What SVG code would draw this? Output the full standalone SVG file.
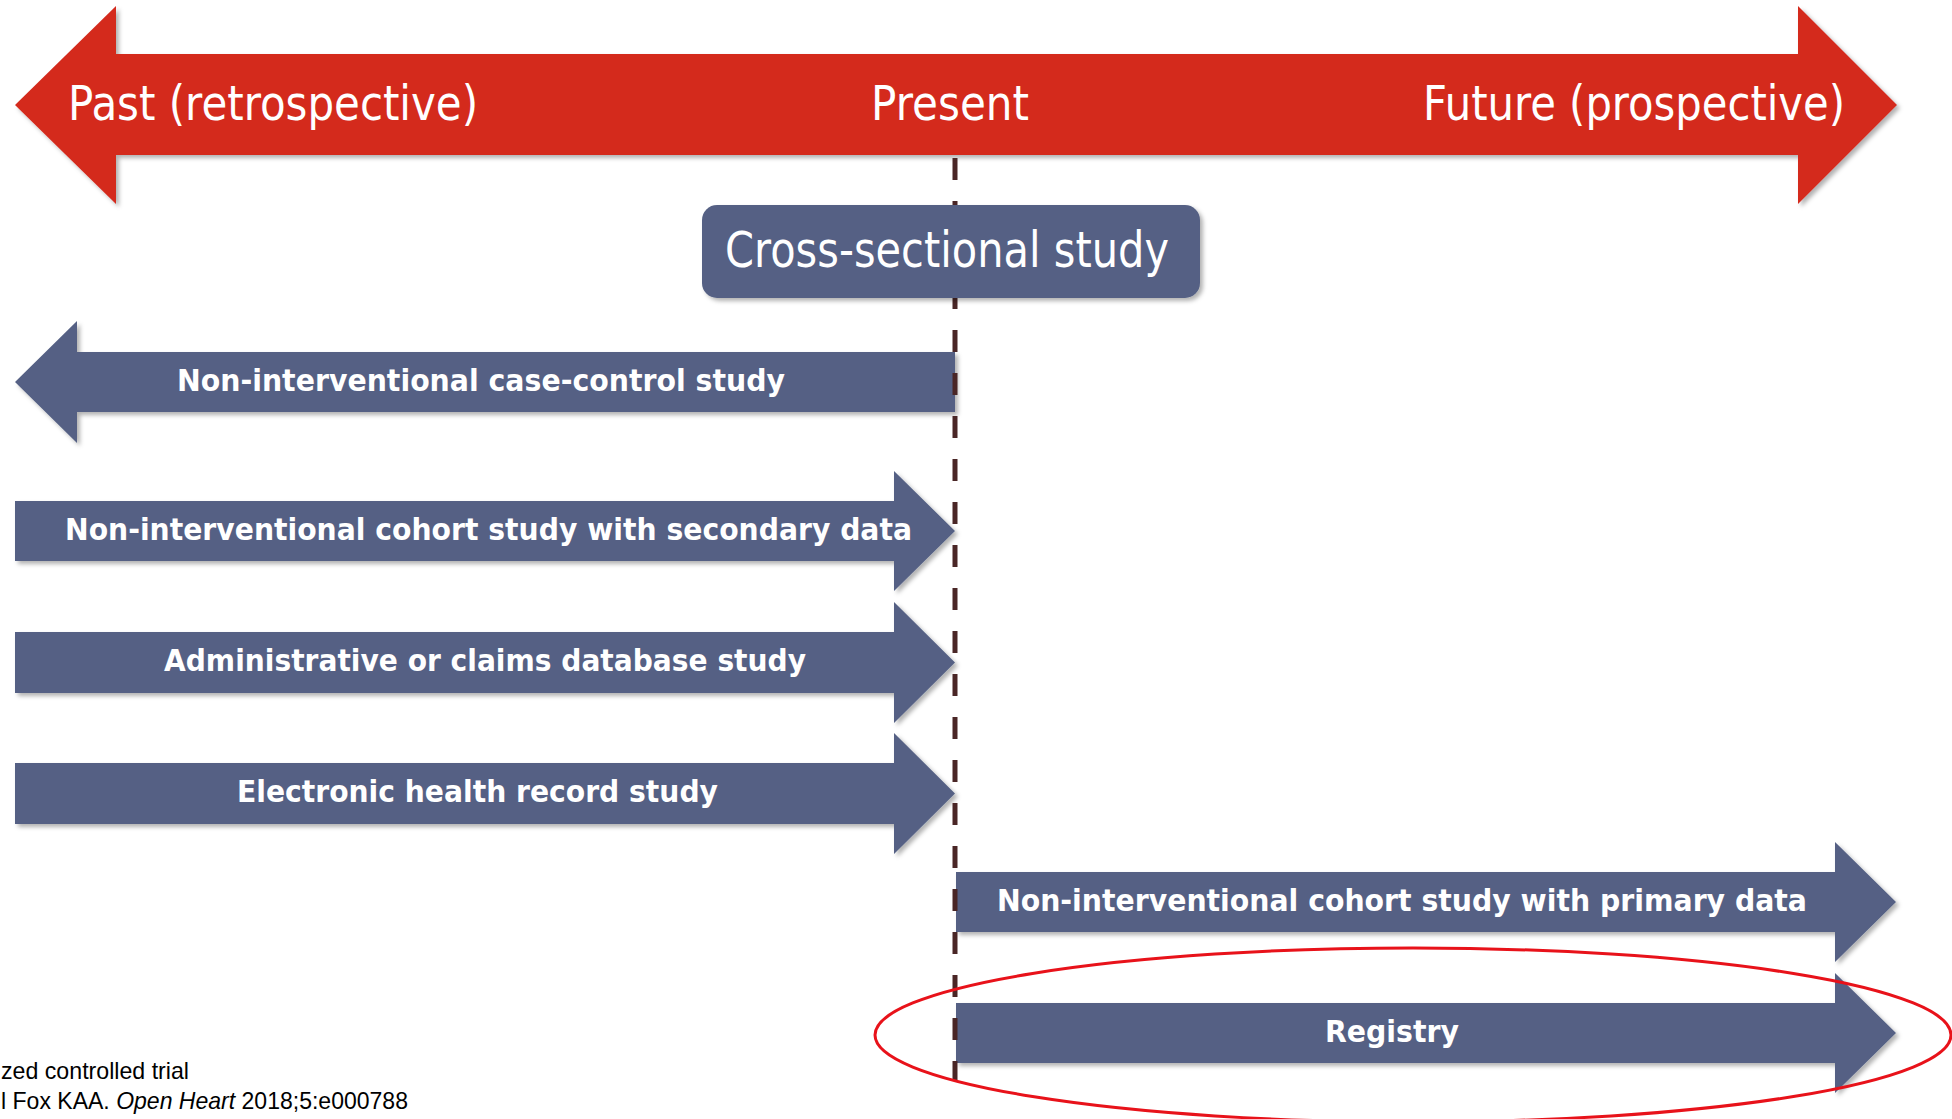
<svg xmlns="http://www.w3.org/2000/svg" width="1952" height="1119" viewBox="0 0 1952 1119">
  <defs>
    <filter id="shadow" x="-5%" y="-20%" width="110%" height="150%">
      <feDropShadow dx="3" dy="3" stdDeviation="2" flood-color="#000" flood-opacity="0.3"/>
    </filter>
    <style>
      .timeline { fill: #d42b1f; filter: url(#shadow); }
      .study { fill: #556184; filter: url(#shadow); }
      .tl-label { font-family: "DejaVu Sans", Verdana, sans-serif; font-size: 48px; fill: #ffffff; }
      .box-label { font-family: "DejaVu Sans", Verdana, sans-serif; font-size: 49px; fill: #ffffff; }
      .study-label { font-family: "DejaVu Sans", Verdana, sans-serif; font-size: 30px; font-weight: bold; fill: #ffffff; }
      .present-line { stroke: #4a2626; stroke-width: 5; stroke-dasharray: 22 21; fill: none; }
      .highlight { fill: none; stroke: #e8121a; stroke-width: 3; }
      .note { font-family: "Liberation Sans", Arial, sans-serif; font-size: 24px; fill: #000000; }
    </style>
  </defs>

  <rect width="1952" height="1119" fill="#ffffff"/>

  <!-- Time axis: past to future -->
  <g id="timeline">
    <path class="timeline" d="M15,105 L116,6 L116,54 L1798,54 L1798,6 L1897,105 L1798,204 L1798,155 L116,155 L116,204 Z"/>
    <text class="tl-label" x="68" y="120" textLength="410" lengthAdjust="spacingAndGlyphs">Past (retrospective)</text>
    <text class="tl-label" x="871" y="120" textLength="158" lengthAdjust="spacingAndGlyphs">Present</text>
    <text class="tl-label" x="1423" y="120" textLength="422" lengthAdjust="spacingAndGlyphs">Future (prospective)</text>
  </g>

  <!-- Study designs -->
  <g id="case-control">
    <path class="study" d="M15,382 L77,321 L77,352 L955,352 L955,412 L77,412 L77,443 Z"/>
    <text class="study-label" x="177" y="391" textLength="608" lengthAdjust="spacingAndGlyphs">Non-interventional case-control study</text>
  </g>

  <g id="cohort-secondary">
    <path class="study" d="M15,501 L894,501 L894,471 L955,531 L894,591 L894,561 L15,561 Z"/>
    <text class="study-label" x="65" y="540" textLength="847" lengthAdjust="spacingAndGlyphs">Non-interventional cohort study with secondary data</text>
  </g>

  <g id="claims-database">
    <path class="study" d="M15,632 L894,632 L894,602 L955,662.5 L894,723 L894,693 L15,693 Z"/>
    <text class="study-label" x="164" y="671" textLength="642" lengthAdjust="spacingAndGlyphs">Administrative or claims database study</text>
  </g>

  <g id="ehr">
    <path class="study" d="M15,763 L894,763 L894,733 L955,793.5 L894,854 L894,824 L15,824 Z"/>
    <text class="study-label" x="237" y="802" textLength="481" lengthAdjust="spacingAndGlyphs">Electronic health record study</text>
  </g>

  <g id="cohort-primary">
    <path class="study" d="M956,872 L1835,872 L1835,842 L1896,902 L1835,962 L1835,932 L956,932 Z"/>
    <text class="study-label" x="997" y="911" textLength="810" lengthAdjust="spacingAndGlyphs">Non-interventional cohort study with primary data</text>
  </g>

  <g id="registry">
    <path class="study" d="M956,1003 L1835,1003 L1835,973 L1896,1033 L1835,1093 L1835,1063 L956,1063 Z"/>
    <text class="study-label" x="1325" y="1042" textLength="134" lengthAdjust="spacingAndGlyphs">Registry</text>
  </g>

  <!-- Present marker -->
  <g id="connectors">
    <line class="present-line" x1="955" y1="158" x2="955" y2="1080"/>
  </g>

  <g id="cross-sectional">
    <rect class="study" x="702" y="205" width="498" height="93" rx="15" ry="15"/>
    <text class="box-label" x="725" y="267" textLength="444" lengthAdjust="spacingAndGlyphs">Cross-sectional study</text>
  </g>

  <!-- Emphasis ring around the registry -->
  <g id="highlight">
    <ellipse class="highlight" cx="1413" cy="1035" rx="538" ry="87"/>
  </g>

  <!-- Footnotes -->
  <g id="footnotes">
    <text class="note" x="1" y="1079" textLength="188" lengthAdjust="spacingAndGlyphs">zed controlled trial</text>
    <text class="note" x="1" y="1109" textLength="407" lengthAdjust="spacingAndGlyphs">l Fox KAA. <tspan font-style="italic">Open Heart</tspan> 2018;5:e000788</text>
  </g>
</svg>
